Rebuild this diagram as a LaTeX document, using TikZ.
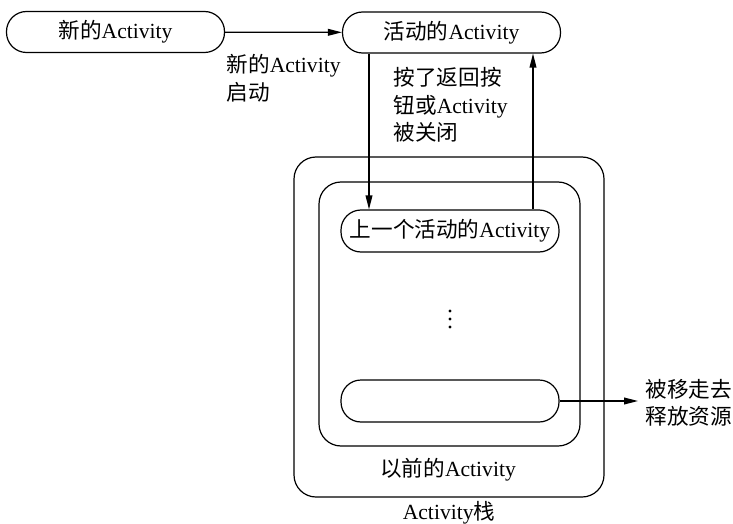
\documentclass[tikz,border=0pt]{standalone}
\usepackage{fontspec}
\setmainfont{Liberation Serif}
\newfontfamily\cjk{Noto Sans CJK SC}
\newcommand{\zh}[1]{{\cjk #1}}
\usetikzlibrary{arrows.meta,positioning}

\begin{document}
\begin{tikzpicture}[x=0.5pt, y=-0.5pt, line width=0.6pt, >={Triangle[length=7pt,width=3.4pt]},
    act/.style={draw, rounded corners=10pt, minimum width=109pt, minimum height=20.5pt, inner sep=0pt, font=\fontsize{10.8}{12}\selectfont},
    box/.style={draw, rounded corners=11pt, inner sep=0pt},
    note/.style={align=left, inner sep=0pt, font=\fontsize{10.8}{13.6}\selectfont}]
  \useasboundingbox (0,0) rectangle (733,524);

  % the two activities on top
  \node[act] (new) at (115.5,32) {\zh{新的}Activity};
  \node[act] (cur) at (451.5,32.5) {\zh{活动的}Activity};

  % the stack and the activities kept in it
  \node[box, minimum width=155pt, minimum height=170pt] (stack) at (449,327) {};
  \node[box, minimum width=130.5pt, minimum height=132pt] (older) at (449.5,314) {};
  \node[act, minimum height=21pt] (prev) at (450,231) {\zh{上一个活动的}Activity};
  \coordinate (dots) at (450,319);
  \foreach \dy in {-8,0,8}
    \fill ([yshift=-0.5*\dy pt]dots) circle (0.8pt);
  \node[act, minimum height=21pt] (last) at (450,401) {};
  \node[font=\fontsize{10.8}{12}\selectfont] (olderlbl) at (448,470) {\zh{以前的}Activity};
  \node[font=\fontsize{10.8}{12}\selectfont] (stacklbl) at (449,513) {Activity\zh{栈}};

  % labels
  \node[note, anchor=north west] (startlbl) at (226,54) {\zh{新的}Activity\\\zh{启动}};
  \node[note, anchor=north west] (backlbl) at (393,67) {\zh{按了返回按}\\\zh{钮或}Activity\\\zh{被关闭}};
  \node[note, anchor=west, inner sep=3.4pt] (gone) at (638,403) {\zh{被移走去}\\\zh{释放资源}};

  % transitions
  \coordinate (dn) at (369,0);
  \coordinate (up) at (533,0);
  \draw[->] (new) -- (cur);
  \draw[->] (cur.south -| dn) -- (prev.north -| dn);
  \draw[->] (prev.north -| up) -- (cur.south -| up);
  \draw[->] (last.east) -- (gone.west |- last.east);
\end{tikzpicture}
\end{document}
